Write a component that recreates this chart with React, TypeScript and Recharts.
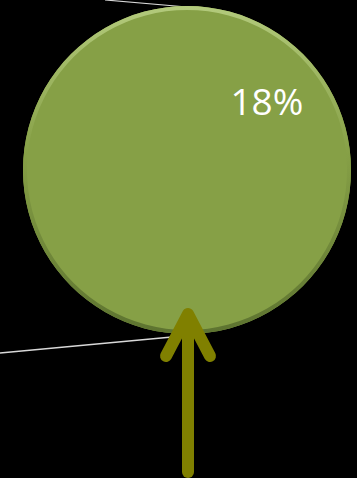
import { PieChart, Pie, Cell } from 'recharts';

const categories = ['Share'];
const shareValues = [18];
const labelTexts = ['18%'];

const data = categories.map((name, i) => ({ name, value: shareValues[i], label: labelTexts[i] }));

// label sits up and to the right of the centre, as in the original slide
function SliceLabel({ cx, cy, outerRadius, index }: any) {
  const angle = (41 * Math.PI) / 180;
  const r = outerRadius * 0.645;
  const x = cx + r * Math.cos(angle);
  const y = cy - r * Math.sin(angle);
  return (
    <text
      x={x}
      y={y}
      fill="#ffffff"
      fontSize={37}
      fontFamily="'Open Sans', sans-serif"
      textAnchor="middle"
      dominantBaseline="central"
    >
      {data[index].label}
    </text>
  );
}

export default function App() {
  return (
    <div
      style={{
        position: 'fixed',
        top: 0,
        left: 0,
        width: 357,
        height: 478,
        background: '#000000',
        overflow: 'hidden',
      }}
    >
      <svg width={357} height={478} style={{ position: 'absolute', top: 0, left: 0 }}>
        {/* connector lines from the first pie */}
        <line x1={105} y1={0} x2={187} y2={7} stroke="#d9d9d9" strokeWidth={1.2} />
        <line x1={0} y1={353} x2={172} y2={337} stroke="#d9d9d9" strokeWidth={1.5} />
      </svg>
      <div style={{ position: 'absolute', top: 0, left: 0 }}>
        <PieChart width={357} height={478} margin={{ top: 0, right: 0, bottom: 0, left: 0 }}>
          <defs>
            <linearGradient id="bevel" x1="0" y1="0" x2="0" y2="1">
              <stop offset="0%" stopColor="#b3ca7c" />
              <stop offset="45%" stopColor="#86a046" />
              <stop offset="100%" stopColor="#5d7330" />
            </linearGradient>
          </defs>
          <Pie
            data={data}
            dataKey="value"
            cx={187}
            cy={170}
            outerRadius={164}
            startAngle={90}
            endAngle={-270}
            stroke="none"
            label={<SliceLabel />}
            labelLine={false}
            isAnimationActive={false}
          >
            {data.map((_, i) => (
              <Cell key={`cell-${i}`} fill="#86a046" />
            ))}
          </Pie>
          {/* bevelled rim */}
          <Pie
            data={data}
            dataKey="value"
            cx={187}
            cy={170}
            innerRadius={160}
            outerRadius={164}
            startAngle={90}
            endAngle={-270}
            stroke="none"
            fill="url(#bevel)"
            isAnimationActive={false}
          >
            {data.map((_, i) => (
              <Cell key={`rim-${i}`} fill="url(#bevel)" />
            ))}
          </Pie>
        </PieChart>
      </div>
      <svg width={357} height={478} style={{ position: 'absolute', top: 0, left: 0, pointerEvents: 'none' }}>
        {/* up arrow */}
        <g stroke="#808000" strokeWidth={12} strokeLinecap="round" strokeLinejoin="round" fill="none">
          <line x1={188} y1={472} x2={188} y2={318} />
          <polyline points="166,356 188,314 210,356" />
        </g>
      </svg>
    </div>
  );
}
